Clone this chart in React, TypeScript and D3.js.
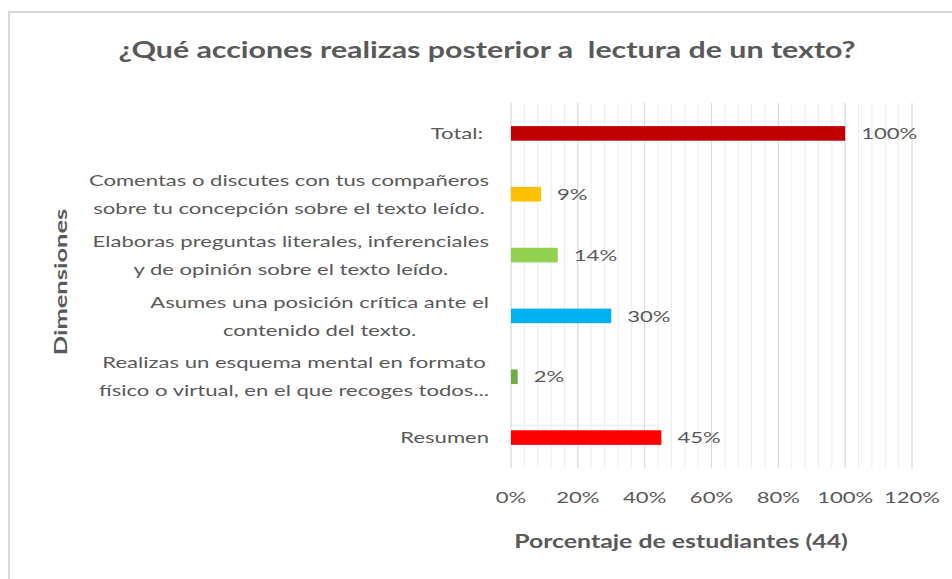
import React, { useEffect, useRef } from "react";
import * as d3 from "d3";

// categories top to bottom, as in the chart
const categories = [
  ["Total:"],
  ["Comentas o discutes con tus compañeros", "sobre tu concepción sobre el texto leído."],
  ["Elaboras preguntas literales, inferenciales", "y de opinión sobre el texto leído."],
  ["Asumes una posición crítica ante el", "contenido del texto."],
  ["Realizas un esquema mental en formato", "físico o virtual, en el que recoges todos..."],
  ["Resumen"],
];
const values = [1.0, 0.09, 0.14, 0.3, 0.02, 0.45];
const barColors = ["#C00000", "#FFC000", "#92D050", "#00B0F0", "#70AD47", "#FF0000"];
const xTicks = [0, 0.2, 0.4, 0.6, 0.8, 1.0, 1.2];

const title = "¿Qué acciones realizas posterior a  lectura de un texto?";
const xTitle = "Porcentaje de estudiantes (44)";
const yTitle = "Dimensiones";

export default function App() {
  const ref = useRef<SVGSVGElement>(null);

  useEffect(() => {
    const svg = d3.select(ref.current);
    svg.selectAll("*").remove();

    const width = 952, height = 579;
    const margin = { top: 103, left: 511, right: 40, bottom: 111 };
    const font = "Lato, 'Open Sans', sans-serif";
    const grey = "#595959";
    const SX = 1.38; // the original's text is drawn wide

    // text helper: stretched horizontally like the source image
    const label = (parent: any, x: number, y: number, s: string, size: number, anchor = "start", bold = false) =>
      parent.append("text")
        .attr("transform", `translate(${x},${y}) scale(${SX},1)`)
        .attr("dy", "0.35em")
        .attr("text-anchor", anchor)
        .attr("fill", grey)
        .style("font", `${bold ? "bold " : ""}${size}px ${font}`)
        .style("white-space", "pre")
        .text(s);

    svg.append("rect")
      .attr("x", 9).attr("y", 12)
      .attr("width", width).attr("height", height)
      .attr("fill", "#fff")
      .attr("stroke", "#d9d9d9").attr("stroke-width", 2);

    const x = d3.scaleLinear().domain([0, 1.2]).range([margin.left, width - margin.right]);
    const y = d3.scaleBand<number>()
      .domain(d3.range(categories.length))
      .range([margin.top, height - margin.bottom])
      .paddingInner(0.76).paddingOuter(0.38);

    const g = svg.append("g");

    // minor gridlines every 4%
    g.selectAll("line.minor")
      .data(d3.range(0, 1.2001, 0.04))
      .enter().append("line")
      .attr("x1", d => x(d)).attr("x2", d => x(d))
      .attr("y1", margin.top).attr("y2", height - margin.bottom)
      .attr("stroke", "#ececec").attr("stroke-width", 1);

    g.selectAll("line.major")
      .data(xTicks)
      .enter().append("line")
      .attr("x1", d => x(d)).attr("x2", d => x(d))
      .attr("y1", margin.top).attr("y2", height - margin.bottom)
      .attr("stroke", "#d9d9d9").attr("stroke-width", 1);

    // bars
    g.selectAll("rect.bar")
      .data(values)
      .enter().append("rect")
      .attr("x", x(0))
      .attr("y", (d, i) => y(i)!)
      .attr("width", d => x(d) - x(0))
      .attr("height", y.bandwidth())
      .attr("fill", (d, i) => barColors[i]);

    // value labels
    values.forEach((v, i) => {
      label(g, x(v) + 16, y(i)! + y.bandwidth() / 2, d3.format(".0%")(v), 16);
    });

    // category labels: wrapped lines centred on each other, block right-aligned
    categories.forEach((lines, i) => {
      const cy = y(i)! + y.bandwidth() / 2;
      const lh = 28;
      const block = g.append("g");
      const texts = lines.map((s, k) =>
        label(block, 0, cy + (k - (lines.length - 1) / 2) * lh, s, 16, "middle"));
      const maxW = d3.max(texts, (t: any) => t.node().getComputedTextLength()) as number;
      const right = i === 0 ? 483 : 489;
      block.attr("transform", `translate(${right - (maxW * SX) / 2},0)`);
    });

    // x tick labels
    xTicks.forEach(t => {
      label(g, x(t), 497, d3.format(".0%")(t), 16, "middle");
    });

    label(svg, 487, 50, title, 22, "middle", true);
    label(svg, 681, 542, xTitle, 18, "middle", true);

    svg.append("text")
      .attr("transform", "translate(61,282) rotate(-90) scale(1.5,1)")
      .attr("dy", "0.35em")
      .attr("text-anchor", "middle")
      .attr("fill", grey)
      .style("font", `bold 17px ${font}`)
      .text(yTitle);
  }, []);

  return (
    <svg
      ref={ref}
      width={952}
      height={579}
      style={{ position: "absolute", left: 0, top: 0, background: "#fff" }}
    />
  );
}
